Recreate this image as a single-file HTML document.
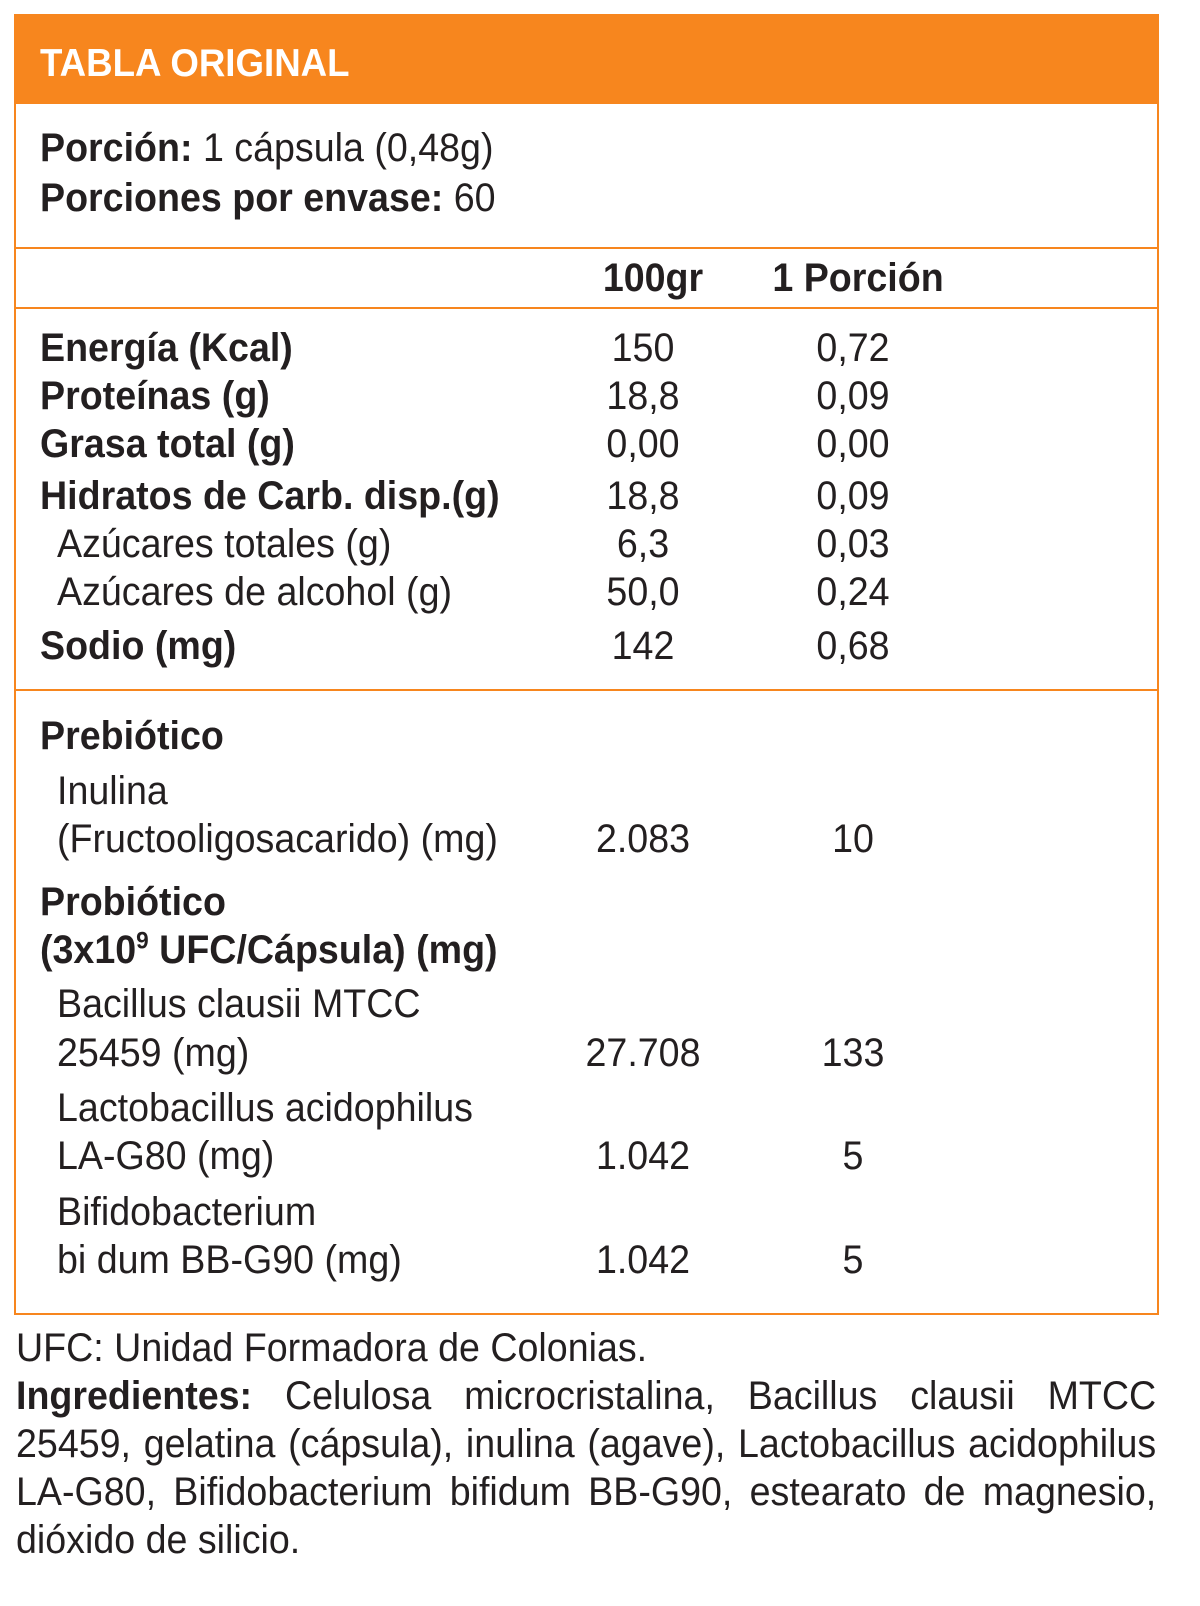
<!DOCTYPE html>
<html><head><meta charset="utf-8"><style>
body{margin:0;width:1200px;height:1606px;background:#fff;position:relative;font-family:"Liberation Sans Narrow","Liberation Sans",sans-serif;color:#231f20;overflow:hidden}
.t{position:absolute;font-size:40px;line-height:40px;white-space:nowrap;transform:scaleX(0.94);transform-origin:0 0}
.b{font-weight:bold}
.c{transform:translateX(-50%) scaleX(0.94);transform-origin:50% 0}
.ln{position:absolute;left:14px;width:1144px;height:2px;background:#f7861e}
.j{position:absolute;left:16px;width:1213px;font-size:40px;line-height:48px;height:48px;text-align:justify;text-align-last:justify;transform:scaleX(0.94);transform-origin:0 0;white-space:nowrap}
</style></head><body>
<div style="position:absolute;left:14px;top:14px;width:1141px;height:1297px;border:2px solid #f7861e"></div>
<div style="position:absolute;left:14px;top:14px;width:1145px;height:90px;background:#f7861e"></div>
<div class="t b" style="left:40px;top:44px;color:#fff;font-size:39px">TABLA ORIGINAL</div>
<div class="t" style="left:40px;top:128px"><b>Porción:</b> 1 cápsula (0,48g)</div>
<div class="t" style="left:40px;top:178px"><b>Porciones por envase:</b> 60</div>
<div class="ln" style="top:247px"></div>
<div class="t b c" style="left:653px;top:258px">100gr</div>
<div class="t b c" style="left:858px;top:258px">1 Porción</div>
<div class="ln" style="top:307px"></div>
<div id="rows"></div>
<div class="ln" style="top:689px"></div>
<div class="t" style="left:16px;top:1328px">UFC: Unidad Formadora de Colonias.</div>
<div>
<div class="j" style="top:1372px"><b>Ingredientes:</b> Celulosa microcristalina, Bacillus clausii MTCC</div>
<div class="j" style="top:1420px">25459, gelatina (cápsula), inulina (agave), Lactobacillus acidophilus</div>
<div class="j" style="top:1468px">LA-G80, Bifidobacterium bifidum BB-G90, estearato de magnesio,</div>
<div class="j" style="top:1516px;text-align-last:left">dióxido de silicio.</div>
</div>
<script>
const rowLabels=[["Energía (Kcal)",362,1,"150","0,72"],["Proteínas (g)",410,1,"18,8","0,09"],["Grasa total (g)",458,1,"0,00","0,00"],["Hidratos de Carb. disp.(g)",510,1,"18,8","0,09"],["Azúcares totales (g)",558,0,"6,3","0,03"],["Azúcares de alcohol (g)",606,0,"50,0","0,24"],["Sodio (mg)",660,1,"142","0,68"],["Prebiótico",750,1,"",""],["Inulina",805,0,"",""],["(Fructooligosacarido) (mg)",853,0,"2.083","10"],["Probiótico",916,1,"",""],["(3x10<sup style='font-size:24px;line-height:0'>9</sup> UFC/Cápsula) (mg)",964,1,"",""],["Bacillus clausii MTCC",1018,0,"",""],["25459 (mg)",1067,0,"27.708","133"],["Lactobacillus acidophilus",1122,0,"",""],["LA-G80 (mg)",1170,0,"1.042","5"],["Bifidobacterium",1226,0,"",""],["bi dum BB-G90 (mg)",1274,0,"1.042","5"]];
const root=document.getElementById('rows');
rowLabels.forEach(r=>{
 const top=r[1]-34;
 const l=document.createElement('div');
 l.className='t'+(r[2]?' b':'');
 l.style.left=(r[2]?40:57)+'px';l.style.top=top+'px';l.innerHTML=r[0];
 
 
 root.appendChild(l);
 if(r[3]){
  const a=document.createElement('div');a.className='t c';a.style.left='643px';a.style.top=top+'px';a.textContent=r[3];
  
  
  root.appendChild(a);
  const b=document.createElement('div');b.className='t c';b.style.left='853px';b.style.top=top+'px';b.textContent=r[4];
  
  
  root.appendChild(b);
 }
});
</script>
</body></html>
